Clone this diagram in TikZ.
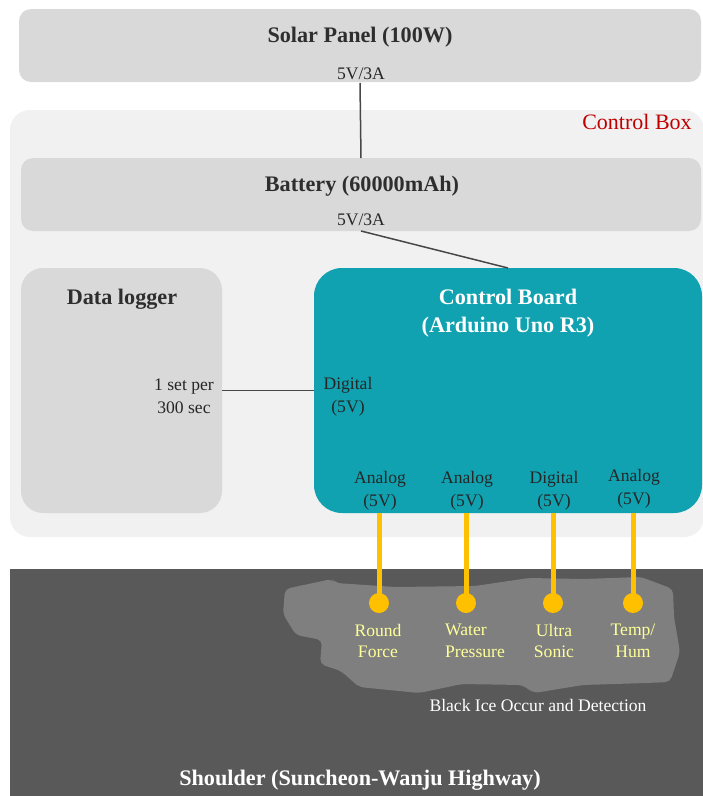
\documentclass[tikz,border=0pt]{standalone}
\usepackage{fontspec}
\setmainfont{Liberation Serif}
\definecolor{panel}{HTML}{D9D9D9}
\definecolor{boxbg}{HTML}{F1F1F1}
\definecolor{teal}{HTML}{10A2B0}
\definecolor{road}{HTML}{595959}
\definecolor{ice}{HTML}{7F7F7F}
\definecolor{wire}{HTML}{FFC000}
\definecolor{lbl}{HTML}{FFFF99}
\definecolor{cbred}{HTML}{C00000}
\newcommand{\fs}[1]{\fontsize{#1}{#1}\selectfont}
\tikzset{
  x=1pt,y=-1pt,
  area/.style={inner sep=0pt,outer sep=0pt,rounded corners=#1},
  title/.style={font=\fs{22.2}\bfseries,text=black!82,align=center,inner sep=0pt},
  small/.style={font=\fs{17.6},text=black!85,align=center,inner sep=0pt},
  conn/.style={draw=black!72,line width=1.5pt},
  sensorwire/.style={draw=wire,line width=5pt},
  dotnode/.style={circle,fill=wire,minimum size=20pt,inner sep=0pt,outer sep=0pt},
  ylabel/.style={font=\fs{17.6},text=lbl,align=center,inner sep=0pt},
}
\begin{document}
\begin{tikzpicture}
\useasboundingbox (0,0) rectangle (703,796);
\fill[white] (0,0) rectangle (703,796);
% panels
\node[area=12pt,fill=panel,minimum width=682pt,minimum height=73pt] (solar) at (360,45.5) {};
\node[area=20pt,fill=boxbg,minimum width=694pt,minimum height=427pt] (cbox) at (357,323.5) {};
\node[area=12pt,fill=panel,minimum width=680pt,minimum height=73pt] (battery) at (361,194.5) {};
\node[area=22pt,fill=panel,minimum width=201pt,minimum height=245pt] (logger) at (121.5,390.5) {};
\node[area=28pt,fill=teal,minimum width=388pt,minimum height=245pt] (board) at (508,390.5) {};
\fill[road] (10,569) rectangle (703,796);
% ice
\fill[ice,rounded corners=5pt] (285,589) -- (332,579) -- (336,583) -- (395,587) -- (475,586) -- (529,578) -- (583,579)
  -- (641,577) -- (673,589) -- (674,617) -- (680,652) -- (670,682) -- (646,683) -- (583,685)
  -- (534,693) -- (522,685) -- (462,684) -- (419,693) -- (359,687) -- (341,671) -- (320,664)
  -- (322,640) -- (296,635) -- (283,614) -- cycle;
% titles
\node[title] at (360,37) {Solar Panel (100W)};
\node[small] (v1) at (361,74) {5V/3A};
\node[font=\fs{22},text=cbred,inner sep=0pt] at (637,122) {Control Box};
\node[title] at (362,186) {Battery (60000mAh)};
\node[small] (v2) at (361,220) {5V/3A};
\node[title] at (122,299) {Data logger};
\node[title,text=white] at (508,313.5) {Control Board\\[6pt](Arduino Uno R3)};
\node[small] at (184,396) {1 set per\\[5pt]300 sec};
\node[small] at (348,397) {Digital\\[5pt](5V)};
\node[small] at (380,491) {Analog\\[5pt](5V)};
\node[small] at (467,491) {Analog\\[5pt](5V)};
\node[small] at (554,491) {Digital\\[5pt](5V)};
\node[small] at (634,489) {Analog\\[5pt](5V)};
% connectors
\coordinate (e1) at (360,83);
\coordinate (e2) at (361,231);
\draw[conn] (e1) -- (battery.north);
\draw[conn] (e2) -- (board.north);
\draw[conn] (logger) -- (board);
% sensors
\node[dotnode] (d1) at (379,603) {};
\node[dotnode] (d2) at (466,603) {};
\node[dotnode] (d3) at (553,603) {};
\node[dotnode] (d4) at (633,603) {};
\foreach \d in {d1,d2,d3,d4} \draw[sensorwire] (\d.center) -- (\d.center |- board.south);
\node[ylabel] at (378,641) {Round\\[4pt]Force};
\node[ylabel,align=left,anchor=west] at (445,641) {Water\\[4pt]Pressure};
\node[ylabel] at (554,641) {Ultra\\[4pt]Sonic};
\node[ylabel] at (633,641) {Temp/\\[4pt]Hum};
\node[font=\fs{17.6},text=white,inner sep=0pt] at (538,705) {Black Ice Occur and Detection};
\node[font=\fs{22.2}\bfseries,text=white,inner sep=0pt] at (360,780) {Shoulder (Suncheon-Wanju Highway)};
\end{tikzpicture}
\end{document}
